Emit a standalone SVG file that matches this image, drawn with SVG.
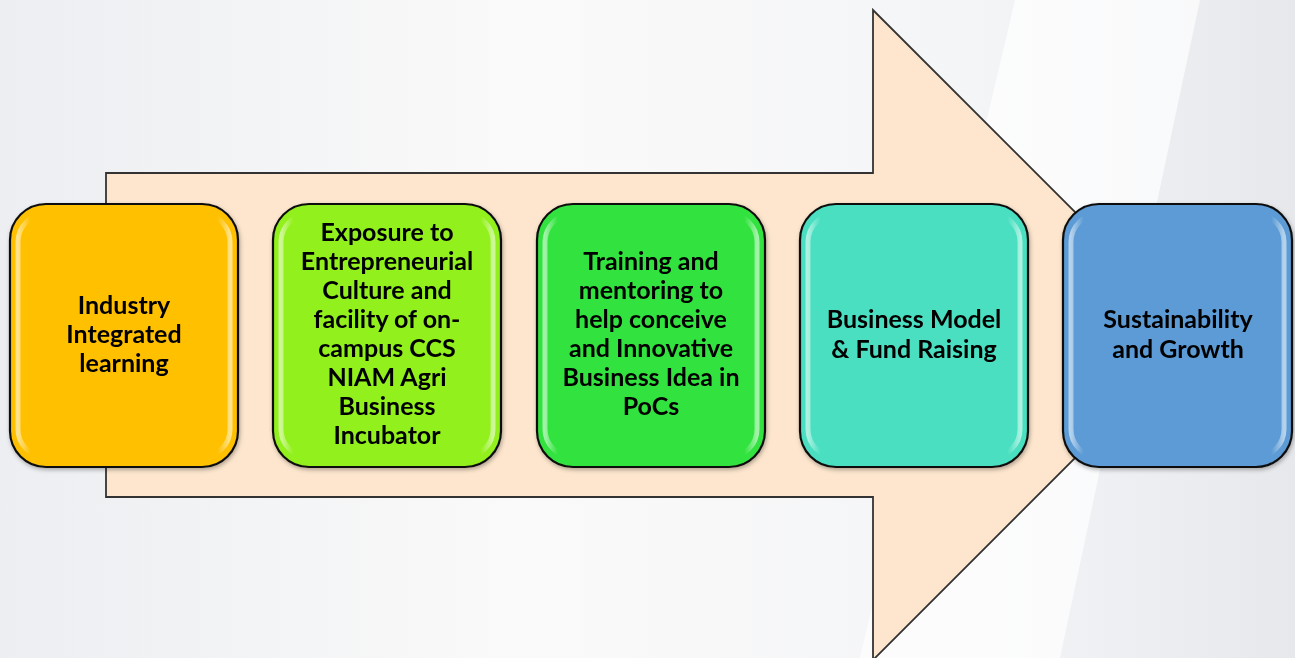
<svg xmlns="http://www.w3.org/2000/svg" width="1295" height="658" viewBox="0 0 1295 658">
<defs>
<linearGradient id="bg" x1="0" y1="0" x2="1" y2="0">
<stop offset="0" stop-color="#eceef1"/>
<stop offset="0.4" stop-color="#fafafa"/>
<stop offset="0.75" stop-color="#f4f5f7"/>
<stop offset="1" stop-color="#e6e8ec"/>
</linearGradient>
<linearGradient id="sheen" x1="0" y1="0" x2="1" y2="0">
<stop offset="0" stop-color="#fff" stop-opacity="0.55"/>
<stop offset="0.06" stop-color="#fff" stop-opacity="0"/>
<stop offset="0.94" stop-color="#fff" stop-opacity="0"/>
<stop offset="1" stop-color="#fff" stop-opacity="0.55"/>
</linearGradient>
<filter id="sh" x="-10%" y="-10%" width="120%" height="120%">
<feDropShadow dx="1" dy="2" stdDeviation="2" flood-color="#000" flood-opacity="0.3"/>
</filter>
</defs>
<style>
.box{stroke:#111;stroke-width:2.2}
.hl{fill:none;stroke:url(#sheen);stroke-width:5}
.t{font-family:Lato,"Open Sans","Liberation Sans",sans-serif;font-weight:bold;font-size:25px;fill:#000;text-anchor:middle}
</style>
<rect width="1295" height="658" fill="url(#bg)"/>
<polygon points="1015,0 1200,0 1060,658 860,658" fill="#ffffff" opacity="0.7"/>
<g id="connectors">
<polygon id="big-arrow" points="106,173 873,173 873,10 1198,335 873,660 873,497 106,497" fill="#fde6cd" stroke="#333" stroke-width="1.8" stroke-linejoin="miter"/>
</g>
<g id="node1" filter="url(#sh)">
<rect class="box" x="10" y="204" width="228" height="263" rx="36" fill="#ffc000"/>
<rect class="hl" x="18" y="214" width="212" height="243" rx="28"/>
<text class="t" x="124" y="314">Industry</text>
<text class="t" x="124" y="343">Integrated</text>
<text class="t" x="124" y="372">learning</text>
</g>
<g id="node2" filter="url(#sh)">
<rect class="box" x="273" y="204" width="228" height="263" rx="36" fill="#92f01a"/>
<rect class="hl" x="281" y="214" width="212" height="243" rx="28"/>
<text class="t" x="387" y="241">Exposure to</text>
<text class="t" x="387" y="270">Entrepreneurial</text>
<text class="t" x="387" y="299">Culture and</text>
<text class="t" x="387" y="328">facility of on-</text>
<text class="t" x="387" y="357">campus CCS</text>
<text class="t" x="387" y="386">NIAM Agri</text>
<text class="t" x="387" y="415">Business</text>
<text class="t" x="387" y="444">Incubator</text>
</g>
<g id="node3" filter="url(#sh)">
<rect class="box" x="537" y="204" width="228" height="263" rx="36" fill="#33e33f"/>
<rect class="hl" x="545" y="214" width="212" height="243" rx="28"/>
<text class="t" x="651" y="270">Training and</text>
<text class="t" x="651" y="299">mentoring to</text>
<text class="t" x="651" y="328">help conceive</text>
<text class="t" x="651" y="357">and Innovative</text>
<text class="t" x="651" y="386">Business Idea in</text>
<text class="t" x="651" y="415">PoCs</text>
</g>
<g id="node4" filter="url(#sh)">
<rect class="box" x="800" y="204" width="228" height="263" rx="36" fill="#48dfc0"/>
<rect class="hl" x="808" y="214" width="212" height="243" rx="28"/>
<text class="t" x="914" y="328">Business Model</text>
<text class="t" x="914" y="358">&amp; Fund Raising</text>
</g>
<g id="node5" filter="url(#sh)">
<rect class="box" x="1063" y="204" width="229" height="263" rx="36" fill="#5b9bd5"/>
<rect class="hl" x="1071" y="214" width="213" height="243" rx="28"/>
<text class="t" x="1178" y="328">Sustainability</text>
<text class="t" x="1178" y="358">and Growth</text>
</g>
</svg>
